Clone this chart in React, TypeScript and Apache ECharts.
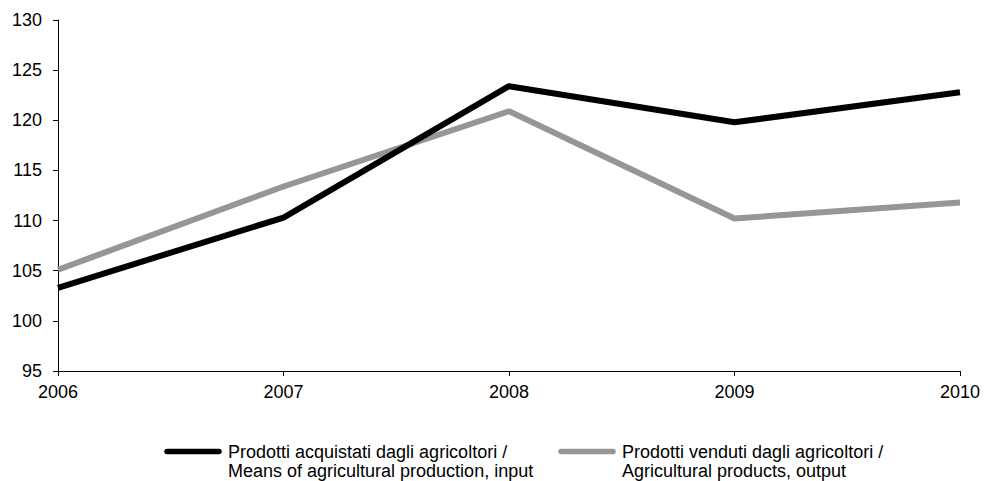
import React, { useEffect, useRef } from "react";
import * as echarts from "echarts";

const years = ["2006", "2007", "2008", "2009", "2010"];
const inputName = ["Prodotti acquistati dagli agricoltori /", "Means of agricultural production, input"];
const outputName = ["Prodotti venduti dagli agricoltori /", "Agricultural products, output"];
const inputValues = [103.3, 110.3, 123.4, 119.8, 122.8];
const outputValues = [105.1, 113.4, 120.9, 110.2, 111.8];
const yTicks = { min: 95, max: 130, interval: 5 };

const FONT = "Liberation Sans, Arial, sans-serif";

export default function App() {
  const ref = useRef<HTMLDivElement>(null);
  useEffect(() => {
    if (!ref.current) return;
    const chart = echarts.init(ref.current, undefined, { renderer: "svg" });
    const legendItems = [
      { name: inputName, color: "#000000", x1: 167, x2: 219, tx: 228 },
      { name: outputName, color: "#969696", x1: 561, x2: 613, tx: 622 },
    ];
    const graphic: any[] = [];
    legendItems.forEach((it) => {
      graphic.push({
        type: "line",
        shape: { x1: it.x1, y1: 451.5, x2: it.x2, y2: 451.5 },
        style: { stroke: it.color, lineWidth: 5.5, lineCap: "round" },
      });
      graphic.push({
        type: "text",
        x: it.tx,
        y: 442.5,
        style: {
          text: it.name.join("\n"),
          fill: "#000",
          font: `18px ${FONT}`,
          lineHeight: 19,
          textVerticalAlign: "top",
        },
      });
    });
    chart.setOption({
      animation: false,
      grid: { left: 58, right: 25, top: 20, bottom: 110 },
      xAxis: {
        type: "category",
        data: years,
        boundaryGap: false,
        axisLine: { lineStyle: { color: "#000", width: 1 } },
        axisTick: { length: 5, lineStyle: { color: "#000" } },
        axisLabel: { color: "#000", fontSize: 18, fontFamily: FONT, margin: 12 },
        splitLine: { show: false },
      },
      yAxis: {
        type: "value",
        min: yTicks.min,
        max: yTicks.max,
        interval: yTicks.interval,
        axisLine: { show: true, lineStyle: { color: "#000", width: 1 } },
        axisTick: { show: true, length: 5, lineStyle: { color: "#000" } },
        axisLabel: { color: "#000", fontSize: 18, fontFamily: FONT, margin: 16 },
        splitLine: { show: false },
      },
      series: [
        {
          name: inputName.join(" "),
          type: "line",
          data: inputValues,
          symbol: "none",
          lineStyle: { color: "#000000", width: 6 },
          z: 3,
        },
        {
          name: outputName.join(" "),
          type: "line",
          data: outputValues,
          symbol: "none",
          lineStyle: { color: "#969696", width: 6 },
          z: 2,
        },
      ],
      graphic,
    });
    return () => chart.dispose();
  }, []);
  return <div ref={ref} style={{ width: 985, height: 481, position: "absolute", left: 0, top: 0 }} />;
}
